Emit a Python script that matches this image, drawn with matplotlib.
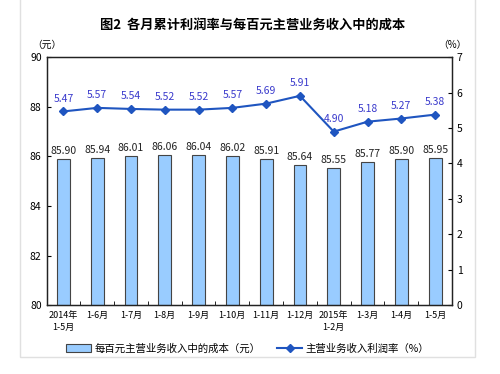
import numpy as np
import matplotlib.pyplot as plt
from matplotlib.patches import Rectangle

plt.rcParams['font.family'] = ['Noto Sans CJK SC', 'DejaVu Sans']

months = ['2014年\n1-5月', '1-6月', '1-7月', '1-8月', '1-9月', '1-10月', '1-11月',
          '1-12月', '2015年\n1-2月', '1-3月', '1-4月', '1-5月']
cost = [85.90, 85.94, 86.01, 86.06, 86.04, 86.02, 85.91, 85.64, 85.55, 85.77, 85.90, 85.95]
rate = [5.47, 5.57, 5.54, 5.52, 5.52, 5.57, 5.69, 5.91, 4.90, 5.18, 5.27, 5.38]

fig = plt.figure(figsize=(5, 3.74), dpi=100)
ax = fig.add_axes([0.093, 0.184, 0.811, 0.663])
# light outer frame, top edge off the picture
fig.patches.append(Rectangle((0.04, 0.045), 0.91, 0.97, transform=fig.transFigure,
                             fill=False, edgecolor='#e0e0e0', lw=1))

x = np.arange(len(months))
ax.bar(x, cost, width=0.38, bottom=0, color='#99ccff', edgecolor='#444444', lw=0.8,
       label='每百元主营业务收入中的成本（元）', zorder=2)
ax.set_ylim(80, 90)
ax.set_xlim(-0.5, len(months) - 0.5)
ax.set_yticks(range(80, 91, 2))
ax.tick_params(axis='y', direction='in', labelsize=7.5, length=3)
ax.set_xticks(x)
ax.set_xticklabels(months, fontsize=6.5, linespacing=1.5)
ax.tick_params(axis='x', length=0, pad=4)
ax.set_xticks(np.arange(0.5, len(months) - 0.5, 1), minor=True)
ax.tick_params(axis='x', which='minor', direction='in', length=3)
for i, v in enumerate(cost):
    ax.text(i, v + 0.12, f'{v:.2f}', ha='center', va='bottom', fontsize=7.5, color='#222222')

ax2 = ax.twinx()
ax2.plot(x, rate, color='#1f55c0', lw=1.5, marker='D', ms=4, label='主营业务收入利润率（%）')
ax2.set_ylim(0, 7)
ax2.set_yticks(range(0, 8))
ax2.tick_params(axis='y', direction='in', labelsize=7.5, length=3)
for i, v in enumerate(rate):
    ax2.text(i, v + 0.22, f'{v:.2f}', ha='center', va='bottom', fontsize=7.5, color='#3a3acc')

for a in (ax, ax2):
    for s in a.spines.values():
        s.set_color('#222222')
        s.set_linewidth(0.9)

fig.text(0.506, 0.935, '图2  各月累计利润率与每百元主营业务收入中的成本', ha='center', va='center',
         fontsize=9.5, fontweight='bold')
fig.text(0.094, 0.88, '（元）', ha='center', va='center', fontsize=7)
fig.text(0.904, 0.88, '（%）', ha='center', va='center', fontsize=7)

h1, l1 = ax.get_legend_handles_labels()
h2, l2 = ax2.get_legend_handles_labels()
fig.legend(h1 + h2, l1 + l2, loc='center', bbox_to_anchor=(0.495, 0.068), ncol=2, frameon=False,
           fontsize=7.5, handlelength=2.4, handleheight=0.7, columnspacing=1.6, handletextpad=0.3)

fig.savefig('out.png', dpi=100)
